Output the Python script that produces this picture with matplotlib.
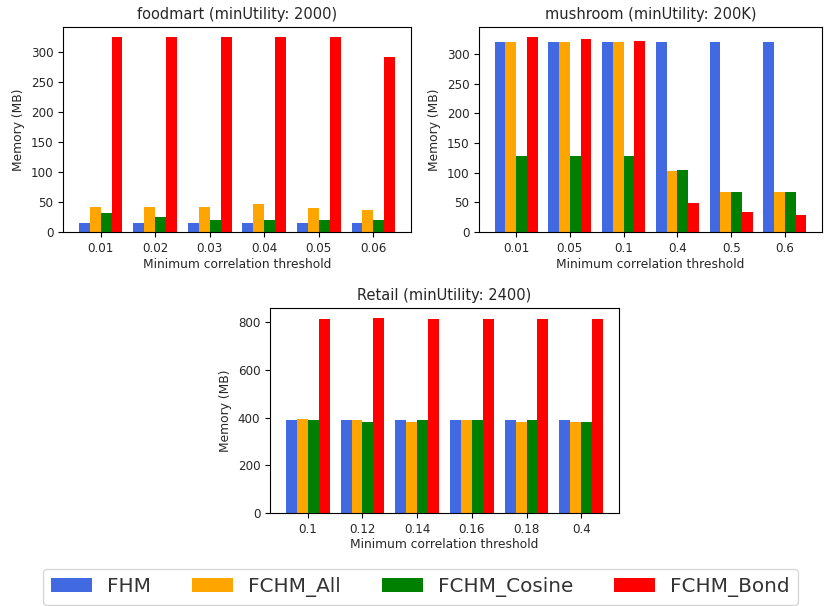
import matplotlib
matplotlib.use("Agg")
import matplotlib.pyplot as plt
import numpy as np

series = ["FHM", "FCHM_All", "FCHM_Cosine", "FCHM_Bond"]
colors = ["royalblue", "orange", "green", "red"]

food_labels = ["0.01", "0.02", "0.03", "0.04", "0.05", "0.06"]
food_fhm = [15, 15, 15, 15, 15, 15]
food_all = [42, 42, 42, 47, 40, 36]
food_cos = [31, 25, 20, 20, 20, 20]
food_bond = [326, 326, 326, 326, 326, 293]

mush_labels = ["0.01", "0.05", "0.1", "0.4", "0.5", "0.6"]
mush_fhm = [320, 320, 320, 320, 320, 320]
mush_all = [320, 320, 320, 102, 68, 68]
mush_cos = [128, 128, 128, 105, 68, 68]
mush_bond = [329, 326, 322, 49, 34, 28]

ret_labels = ["0.1", "0.12", "0.14", "0.16", "0.18", "0.4"]
ret_fhm = [388, 388, 388, 388, 388, 388]
ret_all = [394, 388, 383, 388, 383, 383]
ret_cos = [388, 383, 388, 388, 388, 383]
ret_bond = [812, 818, 812, 812, 812, 812]

fig = plt.figure(figsize=(8.24, 6.06), dpi=100)

W = 824.0
H = 606.0
def box(l, t, r, b):
    return [l / W, 1 - b / H, (r - l) / W, (b - t) / H]

panels = [
    (box(63, 27, 411, 232), "foodmart (minUtility: 2000)", food_labels,
     [food_fhm, food_all, food_cos, food_bond]),
    (box(479, 27, 822, 232), "mushroom (minUtility: 200K)", mush_labels,
     [mush_fhm, mush_all, mush_cos, mush_bond]),
    (box(270, 308, 619, 513), "Retail (minUtility: 2400)", ret_labels,
     [ret_fhm, ret_all, ret_cos, ret_bond]),
]

bw = 0.2
handles = None
for rect, title, labels, data in panels:
    ax = fig.add_axes(rect)
    x = np.arange(len(labels))
    hs = []
    for i, (vals, c, name) in enumerate(zip(data, colors, series)):
        h = ax.bar(x + (i - 1.5) * bw, vals, bw, color=c, label=name)
        hs.append(h)
    handles = hs
    ax.set_xticks(x)
    ax.set_xticklabels(labels, color="#262626")
    ax.set_title(title, fontsize=10.5, color="#262626")
    ax.set_xlabel("Minimum correlation threshold", fontsize=8.8, labelpad=2,
                  color="#262626")
    ax.set_ylabel("Memory (MB)", fontsize=8.8, color="#262626")
    ax.tick_params(labelsize=8.6)
    for t in ax.get_yticklabels():
        t.set_color("#262626")

leg = fig.legend(handles, series, loc="lower center", ncol=4,
                 bbox_to_anchor=(0.510, 0.002), fontsize=14.4,
                 handlelength=2.05, handletextpad=0.75, columnspacing=2.05,
                 borderpad=0.4, borderaxespad=0.0)
for t in leg.get_texts():
    t.set_color("#333333")

fig.savefig("out.png", dpi=100)
